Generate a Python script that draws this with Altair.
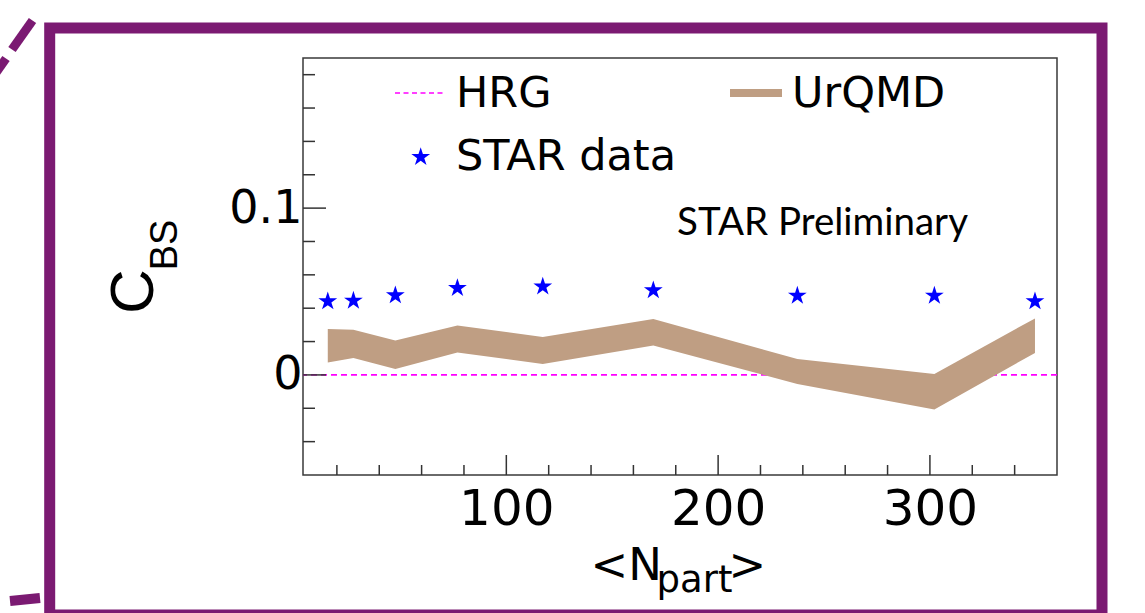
import altair as alt
import pandas as pd

# ---- data ----
npart = [15.7, 27.8, 47.6, 76.9, 117.2, 169.4, 237.4, 302.1, 349.6]
star_data = [0.0441, 0.0445, 0.0477, 0.0521, 0.0530, 0.0507, 0.0475, 0.0475, 0.0441]
urqmd_hi = [0.0275, 0.0271, 0.0207, 0.0297, 0.0228, 0.0335, 0.0096, 0.0006, 0.0339]
urqmd_lo = [0.0075, 0.0102, 0.0036, 0.0135, 0.0066, 0.0177, -0.0054, -0.0208, 0.0132]
hrg_value = [0.0]
x_major = [100, 200, 300]
x_minor = [20, 40, 60, 80, 120, 140, 160, 180, 220, 240, 260, 280, 320, 340]
y_major = [0.0, 0.1]
y_minor = [-0.04, -0.02, 0.02, 0.04, 0.06, 0.08, 0.12, 0.14, 0.16, 0.18]

W, H = 754, 417
PL, PT = 303, 58

PURPLE = "#7B1A72"
TAN = "#BF9E83"
BLUE = "#0000FF"
MAGENTA = "#FF00FF"
AXC = "#333333"

STAR = ("M0,-1 L0.2245,-0.309 L0.9511,-0.309 L0.3633,0.118 L0.5878,0.809 "
        "L0,0.382 L-0.5878,0.809 L-0.3633,0.118 L-0.9511,-0.309 L-0.2245,-0.309 Z")

xscale = alt.Scale(domain=[4, 360], nice=False, zero=False)
yscale = alt.Scale(domain=[-0.06, 0.19], nice=False, zero=False)
xaxis = alt.Axis(values=x_major, format="d", title=None, ticks=False, tickSize=0,
                 domain=False, grid=False, labelFont="DejaVu Sans", labelFontSize=50,
                 labelColor="black", labelPadding=9)
yaxis = alt.Axis(values=y_major, format="~g", title=None, ticks=False, tickSize=0,
                 domain=False, grid=False, labelFont="DejaVu Sans", labelFontSize=46,
                 labelColor="black", labelPadding=1)

def X(f):
    return alt.X(f, scale=xscale, axis=xaxis)

def Y(f):
    return alt.Y(f, scale=yscale, axis=yaxis)

band_df = pd.DataFrame({"npart": npart, "hi": urqmd_hi, "lo": urqmd_lo})
star_df = pd.DataFrame({"npart": npart, "val": star_data})
hrg_df = pd.DataFrame({"val": hrg_value})
xmaj_df = pd.DataFrame({"npart": x_major})
xmin_df = pd.DataFrame({"npart": x_minor})
ymaj_df = pd.DataFrame({"val": y_major})
ymin_df = pd.DataFrame({"val": y_minor})
one = pd.DataFrame({"k": [0]})

hrg = alt.Chart(hrg_df).mark_rule(color=MAGENTA, strokeWidth=1.6, strokeDash=[6, 4]).encode(
    y=Y("val:Q"))
band = alt.Chart(band_df).mark_area(color=TAN, opacity=1).encode(
    x=X("npart:Q"), y=Y("hi:Q"), y2="lo:Q")
stars = alt.Chart(star_df).mark_point(shape=STAR, filled=True, color=BLUE, size=390, opacity=1).encode(
    x=X("npart:Q"), y=Y("val:Q"))

xt_major = alt.Chart(xmaj_df).mark_rule(color=AXC, strokeWidth=1.5).encode(
    x=X("npart:Q"), y=alt.value(H), y2=alt.value(H - 20))
xt_minor = alt.Chart(xmin_df).mark_rule(color=AXC, strokeWidth=1.5).encode(
    x=X("npart:Q"), y=alt.value(H), y2=alt.value(H - 10))
yt_major = alt.Chart(ymaj_df).mark_rule(color=AXC, strokeWidth=1.5).encode(
    y=Y("val:Q"), x=alt.value(0), x2=alt.value(23))
yt_minor = alt.Chart(ymin_df).mark_rule(color=AXC, strokeWidth=1.5).encode(
    y=Y("val:Q"), x=alt.value(0), x2=alt.value(12))

def rel(px, py):
    return px - PL, py - PT

def text(s, px, py, size, font="DejaVu Sans", angle=0, align="left", baseline="alphabetic"):
    x, y = rel(px, py)
    kw = dict(text=s, font=font, fontSize=size, color="black", align=align, baseline=baseline)
    if angle:
        kw["angle"] = angle
    return alt.Chart(one).mark_text(**kw).encode(x=alt.value(x), y=alt.value(y))

def seg(p1, p2, color, width, dash=None, cap="butt"):
    x1, y1 = rel(*p1)
    x2, y2 = rel(*p2)
    kw = dict(color=color, strokeWidth=width, strokeCap=cap)
    if dash:
        kw["strokeDash"] = dash
    return alt.Chart(one).mark_rule(**kw).encode(
        x=alt.value(x1), y=alt.value(y1), x2=alt.value(x2), y2=alt.value(y2))

# legend
leg_hrg = seg((395, 93), (443, 93), MAGENTA, 1.6, dash=[5, 3.5])
leg_urq = seg((730, 93), (782, 93), TAN, 8)
sx, sy = rel(420.7, 157)
leg_star = alt.Chart(one).mark_point(shape=STAR, filled=True, color=BLUE, size=390, opacity=1).encode(
    x=alt.value(sx), y=alt.value(sy))
t_hrg = text("HRG", 456, 106.5, 43)
t_star = text("STAR data", 456, 170, 43)
t_urq = text("UrQMD", 792, 107, 43)
t_prel = text("STAR Preliminary", 677, 235, 38.5, font="Lato")

# axis titles
t_c = text("C", 152.5, 291.5, 62, font="Liberation Sans", angle=270, align="center")
t_bs = text("BS", 177, 245, 38, font="Liberation Sans", angle=270, align="center")
t_n = text("<N", 590.5, 580, 45)
t_part = text("part", 656.6, 592, 37)
t_gt = text(">", 728.5, 580, 45)

# purple frame and decorative dashes
fx1, fy1 = rel(49.7, 28)
fx2, fy2 = rel(1102, 615)
frame = alt.Chart(one).mark_rect(fillOpacity=0, stroke=PURPLE, strokeWidth=11).encode(
    x=alt.value(fx1), x2=alt.value(fx2), y=alt.value(fy1), y2=alt.value(fy2))
d1 = seg((32.5, 20.5), (12, 49.5), PURPLE, 9)
d2 = seg((6, 58.5), (-4, 72.5), PURPLE, 9)
d3 = seg((10, 601), (40, 598), PURPLE, 10)

chart = alt.layer(
    frame, d1, d2, d3,
    hrg, band, stars,
    xt_major, xt_minor, yt_major, yt_minor,
    leg_hrg, leg_urq, leg_star, t_hrg, t_star, t_urq, t_prel,
    t_c, t_bs, t_n, t_part, t_gt,
).properties(
    width=W, height=H,
    autosize=alt.AutoSizeParams(type="none"),
    padding={"left": PL, "top": PT, "right": 1145 - PL - W, "bottom": 613 - PT - H},
    background="white",
).configure_view(stroke="#3a3a3a", strokeWidth=1.5)

chart.save("out.html", embed_options={"renderer": "svg", "actions": False})
